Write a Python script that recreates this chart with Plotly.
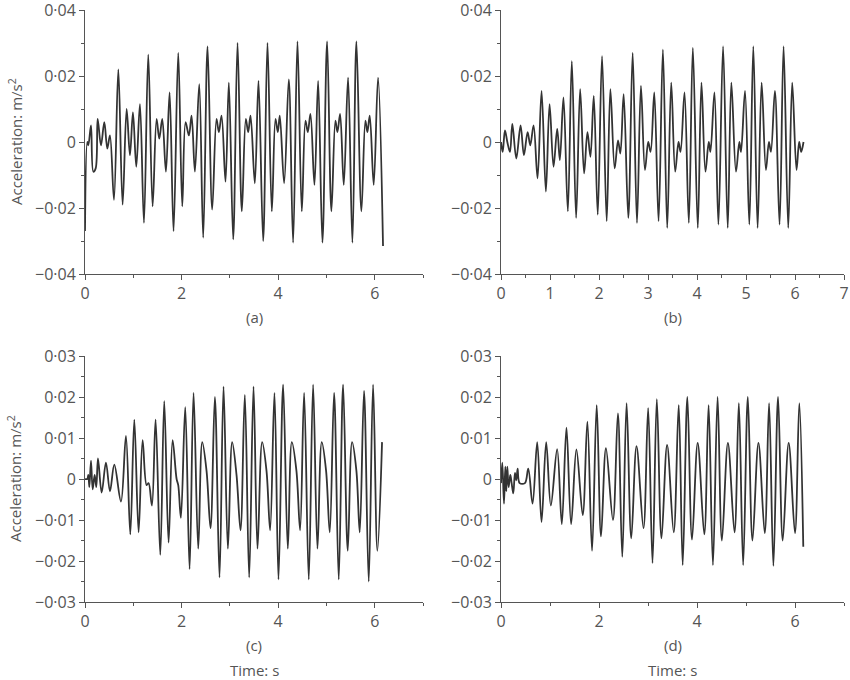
import plotly.graph_objects as go

# panel (a): extrema (time s, acceleration m/s2)
t_a = [0.000, 0.048, 0.069, 0.124, 0.172, 0.221, 0.262, 0.331, 0.400, 0.462, 0.517,
       0.600, 0.690, 0.779, 0.862, 0.931, 0.993, 1.062, 1.138, 1.221, 1.310, 1.400,
       1.483, 1.538, 1.600, 1.676, 1.752, 1.834, 1.931, 2.014, 2.083, 2.152, 2.207,
       2.276, 2.366, 2.448, 2.538, 2.634, 2.724, 2.772, 2.828, 2.910, 2.979, 3.069,
       3.159, 3.248, 3.331, 3.379, 3.428, 3.517, 3.593, 3.690, 3.779, 3.869, 3.945,
       3.993, 4.034, 4.124, 4.221, 4.310, 4.400, 4.490, 4.566, 4.614, 4.669, 4.752,
       4.828, 4.917, 5.014, 5.103, 5.186, 5.228, 5.283, 5.359, 5.448, 5.538, 5.621,
       5.724, 5.807, 5.848, 5.897, 5.979, 6.069, 6.172]
acc_a = [-0.027, 0.000, -0.001, 0.005, -0.009, -0.008, 0.007, -0.001, 0.006, -0.002, 0.002,
         -0.0175, 0.022, -0.019, 0.010, -0.004, 0.009, -0.0075, 0.0115, -0.0245, 0.0265, -0.0195,
         0.007, 0.001, 0.007, -0.009, 0.015, -0.027, 0.027, -0.0195, 0.006, 0.002, 0.008,
         -0.009, 0.0175, -0.029, 0.029, -0.0205, 0.007, 0.003, 0.008, -0.012, 0.018, -0.0295,
         0.030, -0.021, 0.007, 0.003, 0.008, -0.0125, 0.0185, -0.030, 0.030, -0.021, 0.007,
         0.003, 0.008, -0.0125, 0.019, -0.0305, 0.0305, -0.021, 0.0065, 0.003, 0.0085, -0.013,
         0.0185, -0.0305, 0.0305, -0.021, 0.0065, 0.003, 0.0085, -0.013, 0.0195, -0.0305, 0.0305,
         -0.021, 0.0065, 0.003, 0.008, -0.013, 0.0195, -0.0315]

# panel (b)
t_b = [0.000, 0.034, 0.081, 0.129, 0.183, 0.231, 0.312, 0.400, 0.468, 0.543, 0.597,
       0.665, 0.746, 0.828, 0.916, 0.991, 1.072, 1.147, 1.201, 1.275, 1.364, 1.445,
       1.533, 1.615, 1.696, 1.764, 1.825, 1.893, 1.974, 2.062, 2.157, 2.232, 2.320,
       2.388, 2.436, 2.503, 2.598, 2.687, 2.775, 2.856, 2.938, 3.005, 3.053, 3.128,
       3.216, 3.304, 3.392, 3.474, 3.555, 3.623, 3.664, 3.745, 3.833, 3.915, 4.016,
       4.091, 4.172, 4.240, 4.274, 4.356, 4.437, 4.532, 4.627, 4.701, 4.796, 4.864,
       4.898, 4.980, 5.068, 5.149, 5.237, 5.319, 5.407, 5.468, 5.509, 5.590, 5.685,
       5.767, 5.862, 5.943, 6.031, 6.085, 6.126, 6.174]
acc_b = [0.000, -0.003, 0.0035, 0.000, -0.003, 0.0055, -0.005, 0.005, -0.004, 0.003, -0.001,
         0.005, -0.011, 0.0155, -0.015, 0.0115, -0.0075, 0.004, -0.0055, 0.0135, -0.021, 0.0245,
         -0.023, 0.016, -0.0095, 0.003, -0.0045, 0.014, -0.022, 0.026, -0.024, 0.016, -0.008,
         0.0005, -0.0035, 0.0145, -0.023, 0.027, -0.0245, 0.017, -0.0085, 0.000, -0.003, 0.015,
         -0.024, 0.028, -0.026, 0.018, -0.009, 0.000, -0.003, 0.015, -0.0245, 0.0285, -0.026,
         0.018, -0.009, 0.000, -0.003, 0.015, -0.025, 0.029, -0.026, 0.018, -0.009, 0.000,
         -0.003, 0.0155, -0.025, 0.029, -0.026, 0.018, -0.0085, 0.000, -0.003, 0.0155, -0.025,
         0.029, -0.026, 0.018, -0.0085, 0.000, -0.003, 0.000]

# panel (c)
t_c = [0.000, 0.048, 0.069, 0.090, 0.124, 0.159, 0.200, 0.234, 0.269, 0.345, 0.434,
       0.517, 0.607, 0.745, 0.848, 0.938, 1.021, 1.110, 1.193, 1.276, 1.317, 1.386,
       1.462, 1.559, 1.641, 1.731, 1.814, 1.897, 1.931, 1.986, 2.076, 2.166, 2.248,
       2.345, 2.428, 2.517, 2.600, 2.690, 2.786, 2.869, 2.959, 3.048, 3.138, 3.221,
       3.310, 3.400, 3.490, 3.572, 3.669, 3.759, 3.834, 3.924, 4.007, 4.103, 4.200,
       4.283, 4.379, 4.455, 4.538, 4.634, 4.724, 4.814, 4.903, 4.993, 5.069, 5.159,
       5.255, 5.345, 5.441, 5.531, 5.621, 5.690, 5.779, 5.876, 5.966, 6.055, 6.152]
acc_c = [0.000, 0.000, 0.001, -0.002, 0.0045, -0.0025, 0.001, -0.002, 0.005, -0.0033, 0.004,
         -0.003, 0.0035, -0.0055, 0.0105, -0.0135, 0.0145, -0.013, 0.0095, -0.0015, -0.001, -0.0065,
         0.0145, -0.0185, 0.019, -0.0155, 0.0095, 0.000, -0.0015, -0.0095, 0.0175, -0.022, 0.021,
         -0.017, 0.009, 0.002, -0.012, 0.020, -0.024, 0.0225, -0.017, 0.009, 0.001, -0.0125,
         0.0205, -0.024, 0.0225, -0.017, 0.009, 0.002, -0.0125, 0.021, -0.0245, 0.023, -0.017,
         0.009, 0.002, -0.0125, 0.021, -0.0245, 0.023, -0.017, 0.009, 0.002, -0.013, 0.021,
         -0.0245, 0.023, -0.0175, 0.009, 0.002, -0.013, 0.0215, -0.025, 0.023, -0.0175, 0.009]

# panel (d)
t_d = [0.000, 0.027, 0.061, 0.088, 0.108, 0.129, 0.156, 0.190, 0.217, 0.251, 0.285,
       0.312, 0.339, 0.380, 0.488, 0.556, 0.644, 0.739, 0.827, 0.922, 1.017, 1.146,
       1.241, 1.336, 1.431, 1.539, 1.668, 1.763, 1.858, 1.953, 2.041, 2.142, 2.285,
       2.386, 2.475, 2.563, 2.658, 2.766, 2.908, 3.003, 3.092, 3.180, 3.275, 3.390,
       3.525, 3.627, 3.708, 3.803, 3.898, 4.014, 4.149, 4.237, 4.325, 4.420, 4.508,
       4.631, 4.766, 4.854, 4.942, 5.037, 5.132, 5.254, 5.383, 5.471, 5.559, 5.654,
       5.749, 5.871, 6.000, 6.088, 6.169]
acc_d = [-0.001, 0.004, -0.006, 0.003, -0.003, 0.003, -0.002, 0.001, -0.001, -0.0035, 0.0015,
         -0.0003, 0.0025, -0.001, -0.001, 0.0025, -0.006, 0.009, -0.0105, 0.009, -0.0065, 0.0073,
         -0.011, 0.0125, -0.011, 0.0072, -0.0088, 0.014, -0.0175, 0.018, -0.014, 0.0075, -0.010,
         0.016, -0.019, 0.0185, -0.0145, 0.008, -0.012, 0.0173, -0.0205, 0.0195, -0.0145, 0.0083,
         -0.013, 0.018, -0.021, 0.020, -0.0148, 0.0088, -0.0135, 0.018, -0.021, 0.020, -0.015,
         0.0088, -0.013, 0.0185, -0.021, 0.020, -0.015, 0.0088, -0.0132, 0.0185, -0.0212, 0.020,
         -0.015, 0.0088, -0.0132, 0.0185, -0.0165]

panel_labels = ["(a)", "(b)", "(c)", "(d)"]

W, H = 850, 680
LINE = "#333333"
AXIS = "#555555"
TEXT = "#555555"
FONT = "Open Sans"
FS = 15
TICK_FS = 16

fig = go.Figure()
series = [(t_a, acc_a), (t_b, acc_b), (t_c, acc_c), (t_d, acc_d)]
for i, (t, a) in enumerate(series):
    n = "" if i == 0 else str(i + 1)
    fig.add_trace(
        go.Scatter(
            x=t,
            y=a,
            mode="lines",
            line=dict(color=LINE, width=1.8, shape="spline", smoothing=1),
            xaxis="x" + n,
            yaxis="y" + n,
            showlegend=False,
        )
    )

# pixel boxes of the four plot areas: (left, right, top, bottom)
boxes = [(85, 423, 10, 274), (501, 844, 10, 274), (85, 423, 356, 602), (501, 844, 356, 602)]


def _axis_common():
    return dict(
        showgrid=False,
        zeroline=False,
        showline=True,
        linecolor=AXIS,
        linewidth=1,
        ticks="outside",
        ticklen=5,
        tickcolor=AXIS,
        automargin=False,
        ticklabeloverflow="allow",
        tickfont=dict(family=FONT, size=TICK_FS, color=TEXT),
    )


layout = {}
for i, (l, r, t, b) in enumerate(boxes):
    n = "" if i == 0 else str(i + 1)
    top_row = i < 2
    xa = _axis_common()
    xa.update(
        domain=[l / W, r / W],
        range=[0, 7],
        anchor="y" + n,
        dtick=1 if i == 1 else 2,
        minor=dict(dtick=0.5 if i == 1 else 1, ticks="outside", ticklen=3, tickcolor=AXIS),
    )
    ya = _axis_common()
    ya.update(
        domain=[(H - b) / H, (H - t) / H],
        range=[-0.04, 0.04] if top_row else [-0.03, 0.03],
        anchor="x" + n,
        dtick=0.02 if top_row else 0.01,
        minor=dict(dtick=0.01 if top_row else 0.005, ticks="outside", ticklen=3, tickcolor=AXIS),
    )
    layout["xaxis" + n] = xa
    layout["yaxis" + n] = ya

annotations = []
label_font = dict(family=FONT, size=FS, color=TEXT)
for i, (l, r, t, b) in enumerate(boxes):
    cx = (l + r) / 2 / W
    annotations.append(dict(
        text=panel_labels[i], x=cx, y=(H - b - 43) / H, xref="paper", yref="paper",
        xanchor="center", yanchor="middle", showarrow=False, font=label_font,
    ))
    if i >= 2:
        annotations.append(dict(
            text="Time: s", x=cx, y=(H - b - 68) / H, xref="paper", yref="paper",
            xanchor="center", yanchor="middle", showarrow=False, font=label_font,
        ))
    if i % 2 == 0:
        annotations.append(dict(
            text="Acceleration: m/s<sup>2</sup>", x=15 / W, y=(H - (t + b) / 2) / H,
            xref="paper", yref="paper", xanchor="center", yanchor="middle",
            textangle=-90, showarrow=False, font=label_font,
        ))

fig.update_layout(
    **layout,
    width=W,
    height=H,
    margin=dict(l=0, r=0, t=0, b=0),
    paper_bgcolor="white",
    plot_bgcolor="white",
    separators="·,",
    font=dict(family=FONT, size=FS, color=TEXT),
    annotations=annotations,
)

# the page body has a default 8px margin; drop it so the figure sits at the corner
fig.write_html(
    "out.html",
    config={"displayModeBar": False},
    post_script="document.body.style.margin = '0';",
)
